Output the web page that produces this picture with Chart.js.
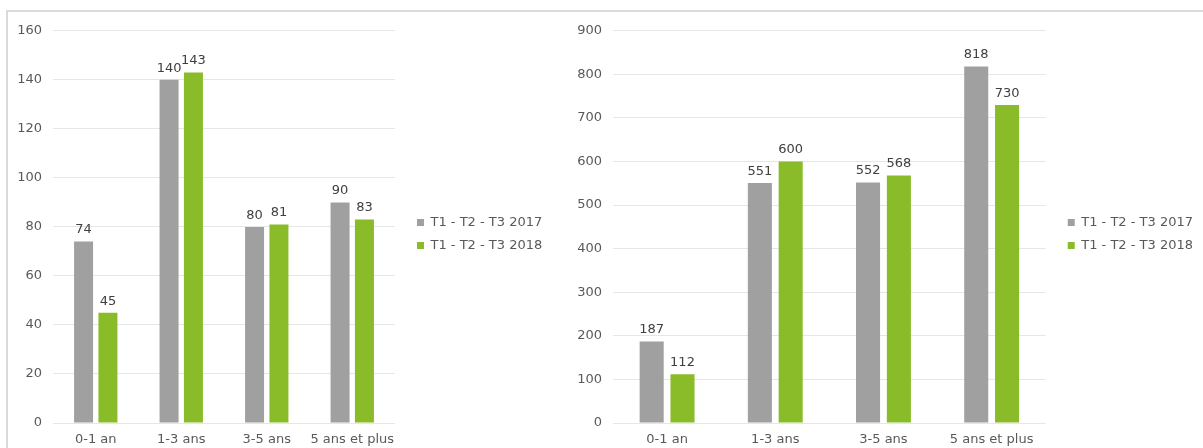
<!DOCTYPE html>
<html>
<head>
<meta charset="utf-8">
<script src="https://cdn.jsdelivr.net/npm/chart.js@4"></script>
<style>
  body { margin: 0; background: #fff; width: 1203px; height: 448px; overflow: hidden; position: relative; }
  #frame { position: absolute; left: 6px; top: 10px; right: 0; bottom: 0; border-top: 2px solid #dadada; border-left: 2px solid #dadada; }
  canvas { position: absolute; }
</style>
</head>
<body>
<div id="frame"></div>
<canvas id="chartLeft" width="544" height="436" style="left:8px; top:12px;"></canvas>
<canvas id="chartRight" width="648" height="436" style="left:555px; top:12px;"></canvas>
<script>
// data
const categories = ['0-1 an', '1-3 ans', '3-5 ans', '5 ans et plus'];
const seriesNames = ['T1 - T2 - T3 2017', 'T1 - T2 - T3 2018'];

const left2017 = [74, 140, 80, 90];
const left2018 = [45, 143, 81, 83];

const right2017 = [187, 551, 552, 818];
const right2018 = [112, 600, 568, 730];

const leftMax = 160, leftStep = 20;
const rightMax = 900, rightStep = 100;

const grey = '#a0a0a0';
const green = '#89bc28';
const textColor = '#595959';

Chart.defaults.font.family = '"DejaVu Sans", Verdana, sans-serif';
Chart.defaults.font.size = 13;
Chart.defaults.color = textColor;

// value above each bar
const valueLabels = {
    id: 'valueLabels',
    afterDatasetsDraw(chart) {
        const ctx = chart.ctx;
        ctx.save();
        ctx.font = '13px "DejaVu Sans", Verdana, sans-serif';
        ctx.fillStyle = '#404040';
        ctx.textAlign = 'center';
        ctx.textBaseline = 'bottom';
        chart.data.datasets.forEach((ds, i) => {
            chart.getDatasetMeta(i).data.forEach((bar, j) => {
                ctx.fillText(ds.data[j], bar.x, bar.y - 5);
            });
        });
        ctx.restore();
    }
};

// excel leaves a gap between plot and legend
const legendGap = {
    id: 'legendGap',
    afterLayout(chart) {
        chart.legend.left += 12;
        chart.legend.right = chart.width;
        chart.legend.top -= 4;
        chart.legend.bottom -= 4;
    }
};

function configString(a, b, max, step, axisWidth, padRight){
    return {
        type: 'bar',
        data: {
            labels: categories,
            datasets: [
                { label: seriesNames[0], data: a, backgroundColor: grey },
                { label: seriesNames[1], data: b, backgroundColor: green }
            ]
        },
        options: {
            responsive: false,
            animation: false,
            layout: { padding: { top: 16, left: 0, right: padRight, bottom: 0 } },
            datasets: {
                bar: { categoryPercentage: 0.57, barPercentage: 0.78 }
            },
            scales: {
                x: {
                    grid: { display: false },
                    border: { display: false },
                    ticks: { padding: 1, color: textColor, maxRotation: 0, minRotation: 0, autoSkip: false },
                    afterFit(scale) { scale.height = 25; }
                },
                y: {
                    min: 0,
                    max: max,
                    ticks: { stepSize: step, padding: 11, color: textColor },
                    grid: { color: '#e6e6e6', drawTicks: false },
                    border: { display: false },
                    afterFit(scale) { scale.width = axisWidth; }
                }
            },
            plugins: {
                legend: {
                    position: 'right',
                    labels: { boxWidth: 7, boxHeight: 7, padding: 10, color: textColor }
                },
                tooltip: { enabled: false }
            }
        },
        plugins: [valueLabels, legendGap]
    };
}

const leftChart = new Chart(
    document.getElementById('chartLeft'),
    configString(left2017, left2018, leftMax, leftStep, 45, 28)
);

const rightChart = new Chart(
    document.getElementById('chartRight'),
    configString(right2017, right2018, rightMax, rightStep, 58, 12)
);
</script>
</body>
</html>
